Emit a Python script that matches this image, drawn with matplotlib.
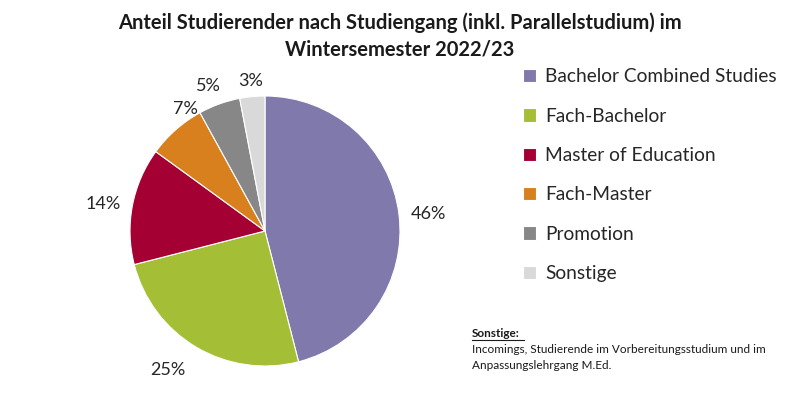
import numpy as np
import matplotlib.pyplot as plt

plt.rcParams["font.family"] = ["Lato", "DejaVu Sans"]

# data
labels = ["Bachelor Combined Studies", "Fach-Bachelor", "Master of Education",
          "Fach-Master", "Promotion", "Sonstige"]
shares = [46, 25, 14, 7, 5, 3]
colors = ["#8079AC", "#A4BE35", "#A50034", "#D9801E", "#878787", "#D9D9D9"]

# label placement (distance in radii, angle nudge in degrees) - like Excel's best fit
label_dist = [1.22, 1.24, 1.22, 1.10, 1.175, 1.14]
label_nudge = [0, -5, 0, -9, 1, 0]

title = "Anteil Studierender nach Studiengang (inkl. Parallelstudium) im\nWintersemester 2022/23"
note_head = "Sonstige:"
note_body = "Incomings, Studierende im Vorbereitungsstudium und im\nAnpassungslehrgang M.Ed."

fig = plt.figure(figsize=(8, 4.01), dpi=100, facecolor="white")

# pie centred at about (265, 231) px, radius ~135 px
lim = 1.35
w_px = 135 * lim
ax = fig.add_axes([(265 - w_px) / 800, (401 - 231 - w_px) / 401, 2 * w_px / 800, 2 * w_px / 401])
wedges, texts = ax.pie(shares, colors=colors, startangle=90, counterclock=False,
                       labels=[f"{s}%" for s in shares],
                       wedgeprops=dict(edgecolor="white", linewidth=0.8),
                       textprops=dict(fontsize=13, color="#262626"))
for w, t, d, nudge in zip(wedges, texts, label_dist, label_nudge):
    ang = np.deg2rad((w.theta1 + w.theta2) / 2 + nudge)
    # small downward shift: matplotlib centres on the box incl. descent
    t.set_position((d * np.cos(ang), d * np.sin(ang) - 0.025))
    t.set_ha("center")
    t.set_va("center")
ax.set_xlim(-lim, lim)
ax.set_ylim(-lim, lim)
ax.set_aspect("equal")
ax.axis("off")

fig.text(0.5, 0.968, title, ha="center", va="top", fontsize=14.5, fontweight="bold",
         color="#1a1a1a", linespacing=1.4)

fig.legend(wedges, labels, loc="upper left", bbox_to_anchor=(0.632, 0.873),
           frameon=False, fontsize=13.8, labelspacing=1.17, handlelength=0.7,
           handleheight=0.7, handletextpad=0.45, labelcolor="#262626")

fig.text(0.59, 0.155, note_head, ha="left", va="bottom", fontsize=8.5,
         fontweight="bold", color="#1a1a1a")
fig.text(0.59, 0.142, note_body, ha="left", va="top", fontsize=8.5,
         color="#1a1a1a", linespacing=1.5)
# underline for the note heading
fig.add_artist(plt.Line2D([0.59, 0.655], [0.151, 0.151], color="#1a1a1a", linewidth=0.8))

fig.savefig("out.png", dpi=100)
